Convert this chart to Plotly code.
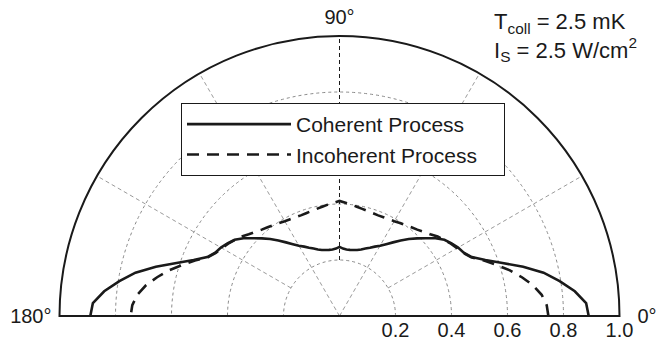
import plotly.graph_objects as go

# Angles (degrees) at which the patterns are sampled
angles = [0, 3, 6, 9, 12, 15, 18, 21, 24, 27, 30, 33, 36, 39, 42, 45, 48, 51, 54, 57,
          60, 63, 66, 69, 72, 75, 78, 81, 84, 87, 90, 93, 96, 99, 102, 105, 108, 111,
          114, 117, 120, 123, 126, 129, 132, 135, 138, 141, 144, 147, 150, 153, 156,
          159, 162, 165, 168, 171, 174, 177, 180]

coherent = [0.890, 0.882, 0.845, 0.796, 0.745, 0.679, 0.612, 0.558, 0.517, 0.498,
            0.489, 0.477, 0.463, 0.441, 0.415, 0.392, 0.370, 0.347, 0.325, 0.306,
            0.290, 0.278, 0.267, 0.258, 0.250, 0.244, 0.241, 0.239, 0.239, 0.241,
            0.247,
            0.241, 0.239, 0.239, 0.241, 0.244, 0.250, 0.258, 0.267, 0.278, 0.290,
            0.306, 0.325, 0.347, 0.370, 0.392, 0.415, 0.441, 0.463, 0.477, 0.489,
            0.498, 0.517, 0.558, 0.612, 0.679, 0.745, 0.796, 0.845, 0.882, 0.890]

incoherent = [0.746, 0.741, 0.726, 0.700, 0.666, 0.630, 0.590, 0.553, 0.515, 0.496,
              0.485, 0.474, 0.462, 0.451, 0.436, 0.425, 0.415, 0.408, 0.401, 0.396,
              0.391, 0.388, 0.386, 0.385, 0.386, 0.388, 0.391, 0.395, 0.400, 0.405,
              0.411,
              0.405, 0.400, 0.395, 0.391, 0.388, 0.386, 0.385, 0.386, 0.388, 0.391,
              0.396, 0.401, 0.408, 0.415, 0.425, 0.436, 0.451, 0.462, 0.474, 0.485,
              0.496, 0.515, 0.553, 0.590, 0.630, 0.666, 0.700, 0.726, 0.741, 0.746]

radial_ticks = [0.2, 0.4, 0.6, 0.8, 1.0]
radial_labels = ["0.2", "0.4", "0.6", "0.8", "1.0"]
angular_ticks = [0, 90, 180]
angular_labels = ["\u20020°", "90°", "180°"]
spoke_angles = [30, 60, 120, 150]
spoke_inner = [0.2, 0.0, 0.0, 0.2]

FONT = "Liberation Sans, Arial, Helvetica, sans-serif"
INK = "#1a1a1a"

W, H = 659, 343
ML, MR = 59, 39
PW = W - ML - MR  # plot-area width


def px_x(x):
    """pixel column -> paper fraction of the plot area"""
    return (x - ML) / PW


def px_y(y):
    """pixel row (from top) -> paper fraction"""
    return (H - y) / H


fig = go.Figure()

# angular grid spokes (grey, dashed)
for ang, r0 in zip(spoke_angles, spoke_inner):
    fig.add_trace(go.Scatterpolar(r=[r0, 1.0], theta=[ang, ang], mode="lines",
                                  line=dict(color="#9a9a9a", width=1, dash="4px,3px"),
                                  showlegend=False, hoverinfo="skip"))
# 90 degree reference spoke (black, dashed)
fig.add_trace(go.Scatterpolar(r=[0.2, 1.0], theta=[90, 90], mode="lines",
                              line=dict(color=INK, width=1, dash="4px,3px"),
                              showlegend=False, hoverinfo="skip"))
# baseline of the half-plane (axis line)
fig.add_trace(go.Scatterpolar(r=[1, 0, 1], theta=[180, 180, 0], mode="lines",
                              line=dict(color=INK, width=2), showlegend=False,
                              hoverinfo="skip"))

fig.add_trace(go.Scatterpolar(r=coherent, theta=angles, mode="lines",
                              name="Coherent Process",
                              line=dict(color=INK, width=2.6)))
fig.add_trace(go.Scatterpolar(r=incoherent, theta=angles, mode="lines",
                              name="Incoherent Process",
                              line=dict(color=INK, width=2.6, dash="12px,8px")))

fig.update_layout(
    width=W, height=H,
    margin=dict(l=ML, r=MR, t=0, b=0),
    paper_bgcolor="white",
    plot_bgcolor="white",
    font=dict(family=FONT, size=20, color=INK),
    polar=dict(
        domain=dict(x=[px_x(59.5), px_x(619.5)], y=[px_y(316), px_y(36)]),
        sector=[0, 180],
        bgcolor="white",
        radialaxis=dict(range=[0, 1], tickvals=radial_ticks, ticktext=radial_labels,
                        angle=0, side="clockwise", showline=False, ticks="",
                        showgrid=True, gridcolor="#8a8a8a", griddash="dot", gridwidth=1,
                        tickfont=dict(size=20, family=FONT, color=INK)),
        angularaxis=dict(rotation=0, direction="counterclockwise",
                         tickvals=angular_ticks, ticktext=angular_labels,
                         ticks="outside", ticklen=3, tickcolor="rgba(0,0,0,0)",
                         showline=True, linecolor=INK, linewidth=2,
                         showgrid=False,
                         tickfont=dict(size=20, family=FONT, color=INK)),
    ),
    legend=dict(x=px_x(181), y=px_y(103), xanchor="left", yanchor="top",
                orientation="h", entrywidth=203, entrywidthmode="pixels",
                bgcolor="white", bordercolor=INK, borderwidth=1,
                font=dict(size=21, family=FONT, color=INK), itemwidth=104,
                tracegroupgap=0),
    annotations=[dict(
        text="T<sub>coll</sub> = 2.5 mK<br>I<sub>S</sub> = 2.5 W/cm<sup>2</sup>",
        x=px_x(492), y=px_y(7), xref="paper", yref="paper",
        xanchor="left", yanchor="top", align="left", showarrow=False,
        font=dict(size=22, family=FONT, color=INK))],
)

fig.write_html("out.html", config={"displayModeBar": False},
               post_script="document.body.style.margin='0px';")
